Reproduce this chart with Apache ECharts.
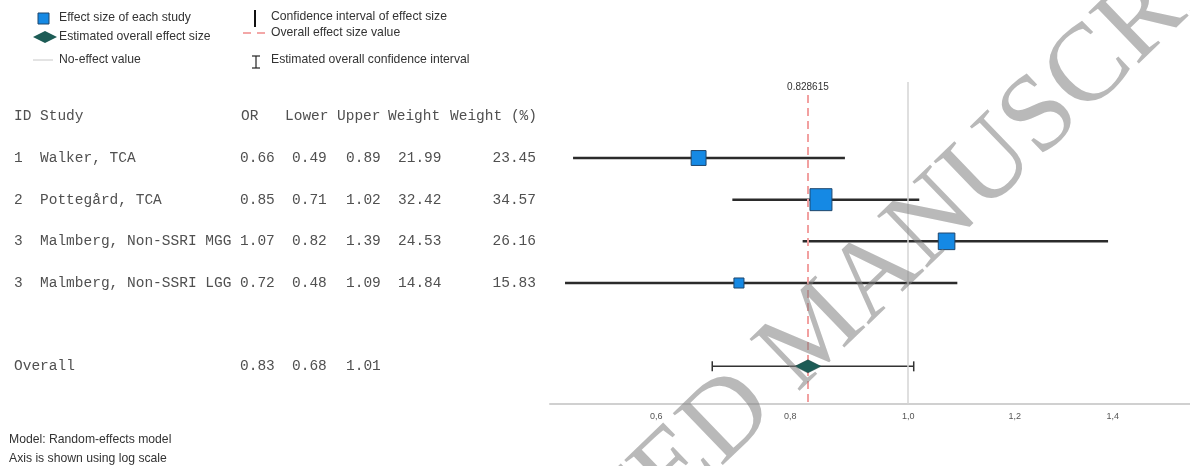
<!DOCTYPE html>
<html lang="en">
<head>
    <meta http-equiv="Content-Type" content="text/html; charset=UTF-8">
    <title>Forest plot</title>
    <script type="text/javascript" src="https://cdn.jsdelivr.net/npm/echarts@6/dist/echarts.min.js"></script>
</head>
<body style="margin:0;width:1190px;height:466px;background:#fff">
<div id="main" style="width:1190px;height:466px"></div>

<script type="text/javascript">
    // ---- data ----
    var ids = ['1', '2', '3', '3'];
    var studies = ['Walker, TCA', 'Pottegård, TCA', 'Malmberg, Non-SSRI MGG', 'Malmberg, Non-SSRI LGG'];
    var orValues = [0.66, 0.85, 1.07, 0.72];
    var lowerValues = [0.49, 0.71, 0.82, 0.48];
    var upperValues = [0.89, 1.02, 1.39, 1.09];
    var weights = [21.99, 32.42, 24.53, 14.84];
    var weightPct = [23.45, 34.57, 26.16, 15.83];
    var studyRows = [1, 2, 3, 4];

    var overallRow = 6;
    var overallOR = 0.828615;
    var overallLower = 0.68;
    var overallUpper = 1.01;
    var noEffect = 1.0;

    var headers = ['ID', 'Study', 'OR', 'Lower', 'Upper', 'Weight', 'Weight (%)'];
    var tickValues = [0.6, 0.8, 1.0, 1.2, 1.4];

    // the plotted spacing of the original follows a square-root scale
    function sx(v) { return Math.sqrt(v); }

    var fmt2 = function (v) { return v.toFixed(2); };
    var monoFont = '14.5px "Liberation Mono"';
    var tableColor = '#505050';
    var sansFont = '12.2px "Liberation Sans"';
    // column left edges (weight % is right aligned)
    var headX = [14, 40, 241, 285, 337, 388, 450];
    var colX = [14, 40, 240, 292, 346, 398];
    var pctRight = 536;

    var myChart = echarts.init(document.getElementById('main'));

    var tableData = [[0, -1]];
    studyRows.forEach(function (r, i) { tableData.push([r, i]); });
    tableData.push([overallRow, -2]);

    function txt(t, x, y, align) {
        return {
            type: 'text', x: x, y: y,
            style: {text: t, font: monoFont, fill: tableColor, align: align || 'left', verticalAlign: 'middle'}
        };
    }

    function note(t, x, y) {
        return {type: 'text', x: x, y: y, style: {text: t, font: sansFont, fill: '#333', verticalAlign: 'middle'}};
    }

    myChart.setOption({
        animation: false,
        grid: {left: 550, right: 0, top: 82, bottom: 62},
        xAxis: {
            type: 'value',
            min: 0.67937,
            max: 1.25233,
            splitLine: {show: false},
            axisTick: {show: false},
            axisLine: {onZero: false, lineStyle: {color: '#d0d0d0', width: 2}},
            axisLabel: {
                customValues: tickValues.map(sx),
                formatter: function (v) { return (v * v).toFixed(1).replace('.', ','); },
                color: '#555',
                fontSize: 9,
                fontFamily: 'Liberation Sans',
                margin: 8
            }
        },
        yAxis: {
            type: 'value',
            inverse: true,
            min: -0.824,
            max: 6.904,
            show: false
        },
        series: [
            {
                // table on the left
                type: 'custom',
                silent: true,
                data: tableData,
                renderItem: function (params, api) {
                    var row = api.value(0), idx = api.value(1);
                    var y = api.coord([0.8, row])[1];
                    var children = [];
                    if (idx === -1) {
                        headers.forEach(function (h, c) { children.push(txt(h, headX[c], y)); });
                    } else if (idx === -2) {
                        children.push(txt('Overall', 14, y));
                        children.push(txt(fmt2(overallOR), colX[2], y));
                        children.push(txt(fmt2(overallLower), colX[3], y));
                        children.push(txt(fmt2(overallUpper), colX[4], y));
                    } else {
                        [ids[idx], studies[idx], fmt2(orValues[idx]), fmt2(lowerValues[idx]),
                            fmt2(upperValues[idx]), fmt2(weights[idx])].forEach(function (t, c) {
                            children.push(txt(t, colX[c], y));
                        });
                        children.push(txt(fmt2(weightPct[idx]), pctRight, y, 'right'));
                    }
                    return {type: 'group', children: children};
                },
                z: 1
            },
            {
                // confidence interval of each study
                type: 'custom',
                silent: true,
                data: studyRows.map(function (r, i) { return [sx(lowerValues[i]), sx(upperValues[i]), r]; }),
                renderItem: function (params, api) {
                    var a = api.coord([api.value(0), api.value(2)]);
                    var b = api.coord([api.value(1), api.value(2)]);
                    return {
                        type: 'line',
                        shape: {x1: a[0], y1: a[1], x2: b[0], y2: b[1]},
                        style: {stroke: '#2b2b2b', lineWidth: 2.5}
                    };
                },
                markLine: {
                    silent: true,
                    symbol: 'none',
                    animation: false,
                    data: [
                        {xAxis: sx(noEffect), lineStyle: {color: '#d4d4d4', width: 1.5, type: 'solid'}, label: {show: false}},
                        [
                            {coord: [sx(overallOR), -0.51]},
                            {coord: [sx(overallOR), 6.904]}
                        ]
                    ],
                    lineStyle: {color: '#f2a0a0', width: 2, type: [8, 5]},
                    label: {
                        show: true,
                        position: 'start',
                        distance: 3,
                        formatter: String(overallOR),
                        color: '#333',
                        fontSize: 10,
                        fontFamily: 'Liberation Sans'
                    }
                },
                z: 2
            },
            {
                // overall confidence interval with end caps
                type: 'custom',
                silent: true,
                data: [[sx(overallLower), sx(overallUpper), overallRow]],
                renderItem: function (params, api) {
                    var a = api.coord([api.value(0), api.value(2)]);
                    var b = api.coord([api.value(1), api.value(2)]);
                    var st = {stroke: '#333', lineWidth: 1.5};
                    return {
                        type: 'group',
                        children: [
                            {type: 'line', shape: {x1: a[0], y1: a[1], x2: b[0], y2: b[1]}, style: st},
                            {type: 'line', shape: {x1: a[0], y1: a[1] - 5, x2: a[0], y2: a[1] + 5}, style: st},
                            {type: 'line', shape: {x1: b[0], y1: b[1] - 5, x2: b[0], y2: b[1] + 5}, style: st}
                        ]
                    };
                },
                z: 3
            },
            {
                // effect size of each study, size by weight
                type: 'scatter',
                symbol: 'rect',
                data: studyRows.map(function (r, i) { return [sx(orValues[i]), r, weightPct[i]]; }),
                symbolSize: function (v) { return v[2] * 0.635; },
                itemStyle: {color: '#1589e4', borderColor: '#1f466c', borderWidth: 1, opacity: 1},
                z: 4
            },
            {
                // estimated overall effect size
                type: 'scatter',
                symbol: 'diamond',
                data: [[sx(overallOR), overallRow]],
                symbolSize: [26, 13],
                itemStyle: {color: '#1d5c56', borderColor: '#163f3b', borderWidth: 0.5, opacity: 1},
                z: 5
            }
        ],
        graphic: [
            // legend, left column
            {type: 'rect', shape: {x: 38, y: 13, width: 11, height: 11}, style: {fill: '#1589e4', stroke: '#1f466c', lineWidth: 1}},
            {type: 'polygon', shape: {points: [[33, 37], [45, 31], [57, 37], [45, 43]]}, style: {fill: '#1d5c56'}},
            {type: 'line', shape: {x1: 33, y1: 60, x2: 53, y2: 60}, style: {stroke: '#c8c8c8', lineWidth: 1}},
            note('Effect size of each study', 59, 18),
            note('Estimated overall effect size', 59, 37),
            note('No-effect value', 59, 60),
            // legend, right column
            {type: 'line', shape: {x1: 255, y1: 10, x2: 255, y2: 27}, style: {stroke: '#111', lineWidth: 2}},
            {type: 'line', shape: {x1: 243, y1: 33, x2: 268, y2: 33}, style: {stroke: '#f08a8a', lineWidth: 1.5, lineDash: [8, 6]}},
            {type: 'line', shape: {x1: 256, y1: 56, x2: 256, y2: 68}, style: {stroke: '#222', lineWidth: 1.2}},
            {type: 'line', shape: {x1: 252, y1: 56, x2: 260, y2: 56}, style: {stroke: '#222', lineWidth: 1.2}},
            {type: 'line', shape: {x1: 252, y1: 68, x2: 260, y2: 68}, style: {stroke: '#222', lineWidth: 1.2}},
            note('Confidence interval of effect size', 271, 17),
            note('Overall effect size value', 271, 33),
            note('Estimated overall confidence interval', 271, 60),
            // notes
            note('Model: Random-effects model', 9, 440),
            note('Axis is shown using log scale', 9, 459),
            // watermark
            {
                type: 'text', x: 818, y: 333, rotation: 44 * Math.PI / 180, z: 100, silent: true,
                style: {
                    text: 'ACCEPTED MANUSCRIPT',
                    font: '110px "Liberation Serif"',
                    fill: 'rgba(128,128,128,0.55)',
                    align: 'center',
                    verticalAlign: 'middle'
                }
            }
        ]
    });
</script>
</body>
</html>
